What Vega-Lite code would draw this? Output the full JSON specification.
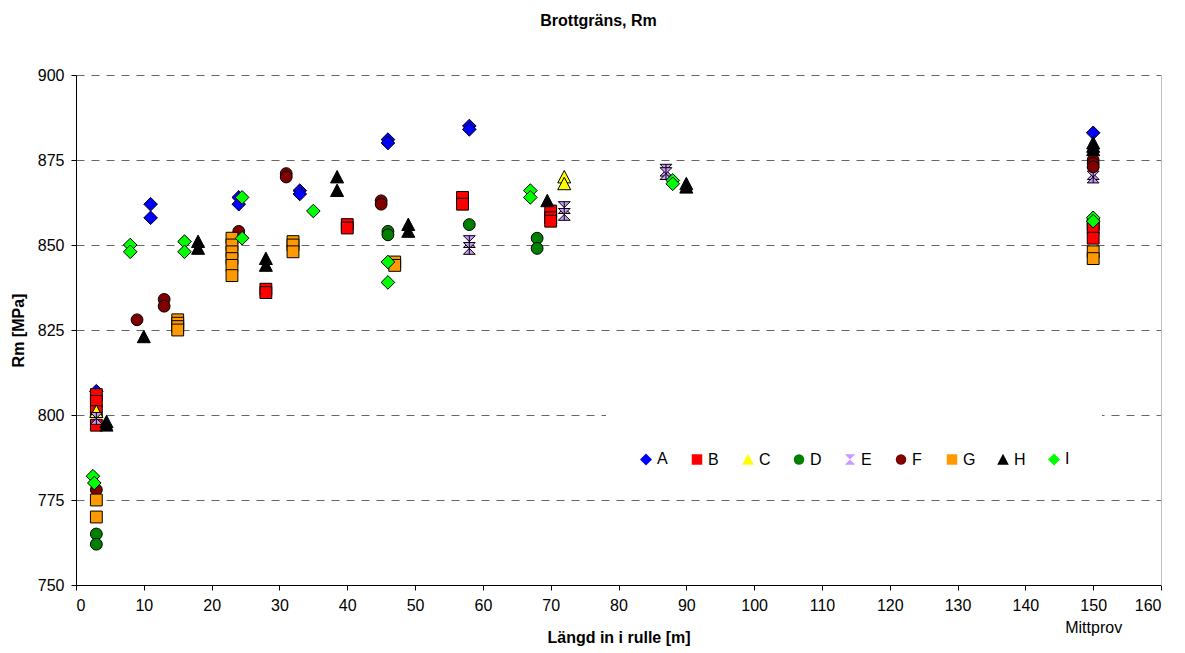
{
  "$schema": "https://vega.github.io/schema/vega-lite/v6.json",
  "width": 1085,
  "height": 510,
  "autosize": {"type": "none"},
  "padding": {"left": 76, "top": 75, "right": 24, "bottom": 68},
  "background": "white",
  "title": {
    "text": "Brottgräns, Rm",
    "font": "Liberation Sans",
    "fontSize": 16,
    "fontWeight": "bold",
    "color": "black",
    "anchor": "middle",
    "dx": -20,
    "offset": 38
  },
  "config": {
    "view": {"stroke": null},
    "font": "Liberation Sans",
    "legend": {
      "orient": "none",
      "legendX": 530,
      "legendY": 332,
      "direction": "horizontal",
      "columns": 9,
      "gridAlign": "all",
      "fillColor": "white",
      "padding": 32,
      "symbolSize": 110,
      "symbolStrokeColor": "black",
      "symbolStrokeWidth": 1,
      "symbolOpacity": 1,
      "labelFont": "Liberation Sans",
      "labelFontSize": 16,
      "labelColor": "black",
      "labelOffset": 3,
      "columnPadding": 18,
      "titleFontSize": 8,
      "titlePadding": 4
    }
  },
  "data": {
    "values": [
      {"s": "A", "x": 3, "y": 807},
      {"s": "A", "x": 11, "y": 862},
      {"s": "A", "x": 11, "y": 858},
      {"s": "A", "x": 24, "y": 864},
      {"s": "A", "x": 24, "y": 862},
      {"s": "A", "x": 33, "y": 866},
      {"s": "A", "x": 33, "y": 865},
      {"s": "A", "x": 46, "y": 881},
      {"s": "A", "x": 46, "y": 880},
      {"s": "A", "x": 58, "y": 885},
      {"s": "A", "x": 58, "y": 884},
      {"s": "A", "x": 150, "y": 883},
      {"s": "B", "x": 3, "y": 806},
      {"s": "B", "x": 3, "y": 804},
      {"s": "B", "x": 3, "y": 801},
      {"s": "B", "x": 3, "y": 797},
      {"s": "B", "x": 28, "y": 837},
      {"s": "B", "x": 28, "y": 836},
      {"s": "B", "x": 40, "y": 856},
      {"s": "B", "x": 40, "y": 855},
      {"s": "B", "x": 57, "y": 864},
      {"s": "B", "x": 57, "y": 862},
      {"s": "B", "x": 70, "y": 860},
      {"s": "B", "x": 70, "y": 858},
      {"s": "B", "x": 70, "y": 857},
      {"s": "B", "x": 150, "y": 856},
      {"s": "B", "x": 150, "y": 855},
      {"s": "B", "x": 150, "y": 852},
      {"s": "C", "x": 3, "y": 801},
      {"s": "C", "x": 72, "y": 870},
      {"s": "C", "x": 72, "y": 868},
      {"s": "D", "x": 3, "y": 765},
      {"s": "D", "x": 3, "y": 762},
      {"s": "D", "x": 46, "y": 854},
      {"s": "D", "x": 46, "y": 853},
      {"s": "D", "x": 58, "y": 856},
      {"s": "D", "x": 68, "y": 852},
      {"s": "D", "x": 68, "y": 849},
      {"s": "E", "x": 3, "y": 799},
      {"s": "E", "x": 58, "y": 851},
      {"s": "E", "x": 58, "y": 849},
      {"s": "E", "x": 72, "y": 861},
      {"s": "E", "x": 72, "y": 859},
      {"s": "E", "x": 87, "y": 872},
      {"s": "E", "x": 87, "y": 871},
      {"s": "E", "x": 150, "y": 871},
      {"s": "E", "x": 150, "y": 870},
      {"s": "F", "x": 3, "y": 778},
      {"s": "F", "x": 9, "y": 828},
      {"s": "F", "x": 13, "y": 834},
      {"s": "F", "x": 13, "y": 832},
      {"s": "F", "x": 24, "y": 854},
      {"s": "F", "x": 31, "y": 871},
      {"s": "F", "x": 31, "y": 870},
      {"s": "F", "x": 45, "y": 863},
      {"s": "F", "x": 45, "y": 862},
      {"s": "F", "x": 150, "y": 875},
      {"s": "F", "x": 150, "y": 874},
      {"s": "F", "x": 150, "y": 873},
      {"s": "G", "x": 3, "y": 775},
      {"s": "G", "x": 3, "y": 770},
      {"s": "G", "x": 15, "y": 828},
      {"s": "G", "x": 15, "y": 827},
      {"s": "G", "x": 15, "y": 826},
      {"s": "G", "x": 15, "y": 825},
      {"s": "G", "x": 23, "y": 852},
      {"s": "G", "x": 23, "y": 850},
      {"s": "G", "x": 23, "y": 848},
      {"s": "G", "x": 23, "y": 846},
      {"s": "G", "x": 23, "y": 844},
      {"s": "G", "x": 23, "y": 841},
      {"s": "G", "x": 32, "y": 851},
      {"s": "G", "x": 32, "y": 850},
      {"s": "G", "x": 32, "y": 848},
      {"s": "G", "x": 47, "y": 845},
      {"s": "G", "x": 47, "y": 844},
      {"s": "G", "x": 150, "y": 848},
      {"s": "G", "x": 150, "y": 846},
      {"s": "H", "x": 4.5, "y": 798},
      {"s": "H", "x": 4.5, "y": 797},
      {"s": "H", "x": 10, "y": 823},
      {"s": "H", "x": 18, "y": 851},
      {"s": "H", "x": 18, "y": 849},
      {"s": "H", "x": 28, "y": 846},
      {"s": "H", "x": 28, "y": 844},
      {"s": "H", "x": 38.5, "y": 870},
      {"s": "H", "x": 38.5, "y": 866},
      {"s": "H", "x": 49, "y": 856},
      {"s": "H", "x": 49, "y": 854},
      {"s": "H", "x": 69.5, "y": 863},
      {"s": "H", "x": 90, "y": 868},
      {"s": "H", "x": 90, "y": 867},
      {"s": "H", "x": 150, "y": 880},
      {"s": "H", "x": 150, "y": 879},
      {"s": "H", "x": 150, "y": 878},
      {"s": "I", "x": 2.5, "y": 782},
      {"s": "I", "x": 2.7, "y": 780},
      {"s": "I", "x": 8, "y": 850},
      {"s": "I", "x": 8, "y": 848},
      {"s": "I", "x": 16, "y": 851},
      {"s": "I", "x": 16, "y": 848},
      {"s": "I", "x": 24.5, "y": 864},
      {"s": "I", "x": 24.5, "y": 852},
      {"s": "I", "x": 35, "y": 860},
      {"s": "I", "x": 46, "y": 845},
      {"s": "I", "x": 46, "y": 839},
      {"s": "I", "x": 67, "y": 866},
      {"s": "I", "x": 67, "y": 864},
      {"s": "I", "x": 88, "y": 869},
      {"s": "I", "x": 88, "y": 868},
      {"s": "I", "x": 150, "y": 858},
      {"s": "I", "x": 150, "y": 857}
    ]
  },
  "layer": [
    {
      "mark": {"type": "point", "filled": true, "stroke": "black", "strokeWidth": 1, "opacity": 1, "size": 140},
      "encoding": {
        "x": {
          "field": "x",
          "type": "quantitative",
          "scale": {"domain": [0, 160], "nice": false, "zero": false},
          "axis": {
            "values": [0, 10, 20, 30, 40, 50, 60, 70, 80, 90, 100, 110, 120, 130, 140, 150, 160],
            "grid": false,
            "domainColor": "black",
            "tickColor": "black",
            "tickSize": 5,
            "labelFont": "Liberation Sans",
            "labelFontSize": 16,
            "labelColor": "black",
            "labelPadding": 7,
            "labelLineHeight": 22,
            "labelExpr": "datum.value == 150 ? ['150', 'Mittprov'] : datum.label",
            "title": "Längd in i rulle [m]",
            "titleFont": "Liberation Sans",
            "titleFontSize": 16,
            "titleFontWeight": "bold",
            "titleColor": "black",
            "titleBaseline": "middle",
            "titleY": 52
          }
        },
        "y": {
          "field": "y",
          "type": "quantitative",
          "scale": {"domain": [750, 900], "nice": false, "zero": false},
          "axis": {
            "values": [750, 775, 800, 825, 850, 875, 900],
            "grid": true,
            "gridColor": "#666666",
            "gridDash": [8, 7],
            "gridWidth": 1,
            "domainColor": "black",
            "tickColor": "black",
            "tickSize": 5,
            "labelFont": "Liberation Sans",
            "labelFontSize": 16,
            "labelColor": "black",
            "labelPadding": 7,
            "title": "Rm [MPa]",
            "titleFont": "Liberation Sans",
            "titleFontSize": 16,
            "titleFontWeight": "bold",
            "titleColor": "black",
            "titlePadding": 11
          }
        },
        "fill": {
          "field": "s",
          "type": "nominal",
          "scale": {
            "domain": ["A", "B", "C", "D", "E", "F", "G", "H", "I"],
            "range": ["#0000FF", "#FF0000", "#FFFF00", "#008000", "#CC99FF", "#800000", "#FF9900", "#000000", "#00FF00"]
          },
          "legend": {"title": " "}
        },
        "shape": {
          "field": "s",
          "type": "nominal",
          "scale": {
            "domain": ["A", "B", "C", "D", "E", "F", "G", "H", "I"],
            "range": [
              "M0,-1.15L1.15,0L0,1.15L-1.15,0Z",
              "M-1,-1H1V1H-1Z",
              "M0,-1.1L1.1,1H-1.1Z",
              "circle",
              "M-1,-1H1L-1,1H1Z M0,-1V1",
              "circle",
              "M-1,-1H1V1H-1Z",
              "M0,-1.1L1.1,1H-1.1Z",
              "M0,-1.15L1.15,0L0,1.15L-1.15,0Z"
            ]
          },
          "legend": {"title": " "}
        }
      }
    },
    {
      "mark": {"type": "point", "opacity": 0},
      "encoding": {
        "x": {"field": "x", "type": "quantitative"},
        "y": {
          "field": "y",
          "type": "quantitative",
          "axis": {"orient": "right", "labels": false, "ticks": false, "grid": false, "title": null, "domainColor": "#BFBFBF"}
        }
      }
    }
  ],
  "resolve": {"axis": {"y": "independent"}}
}
